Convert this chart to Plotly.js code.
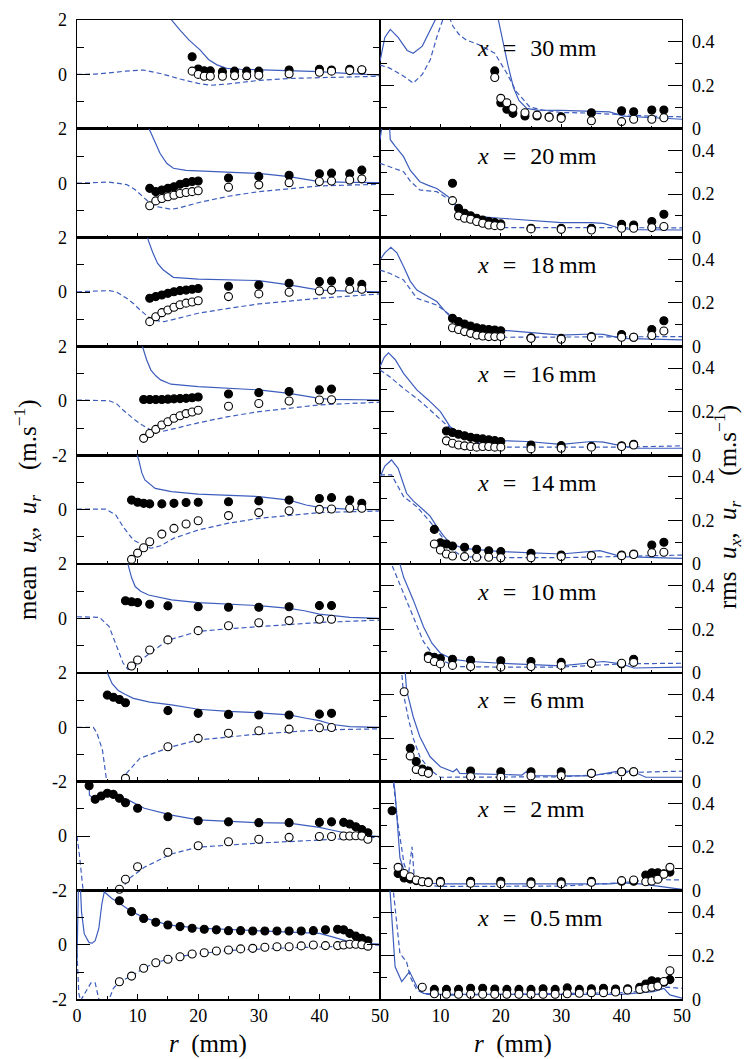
<!DOCTYPE html>
<html><head><meta charset="utf-8">
<script src="https://cdn.plot.ly/plotly-3.0.1.min.js"></script>
<style>html,body{margin:0;padding:0;background:#fff}#chart{width:747px;height:1059px}</style>
</head><body><div id="chart"></div>
<script>
// ---------- panel labels and tick labels ----------
const stations = ['30', '20', '18', '16', '14', '10', '6', '2', '0.5'];
const leftTopLabels = ['2', '2', '2', '2', '', '2', '2', '', ''];
const leftBottomLabels = ['', '', '', '-2', '', '', '-2', '-2', '-2'];
const rTickVals = [0, 10, 20, 30, 40, 50];
const rTickTextLeft = ['0', '10', '20', '30', '40', '50'];
const rTickTextRight = ['', '10', '20', '30', '40', '50'];
const meanTickVals = [-2, 0, 2];
const rmsTickVals = [0, 0.2, 0.4];
const rmsTickText = ['0', '0.2', '0.4'];

// ---------- x = 30 mm ----------
const exp30_r = [19,20,21,22,24,26,28,30,35,40,42,45,47];
const mean30_ux = [0.65,0.2,0.13,0.13,0.1,0.12,0.12,0.12,0.16,0.19,0.16,0.19,0.16];
const mean30_ur = [0.12,0.0,-0.07,-0.07,-0.07,-0.05,-0.05,-0.03,0.02,0.08,0.12,0.14,0.17];
const rms30_ux = [0.266,0.12,0.09,0.071,0.059,0.059,0.055,0.055,0.074,0.083,0.078,0.086,0.086];
const rms30_ur = [0.236,0.14,0.12,0.094,0.074,0.063,0.053,0.048,0.037,0.033,0.044,0.044,0.051];
const mean30_uxCfd_r = [12,15.6,17,18.5,20.3,21.7,23.1,24.7,27,30,35,40,45,50];
const mean30_uxCfd = [3.5,2.0,1.63,1.26,0.9,0.55,0.35,0.22,0.19,0.17,0.14,0.1,0.03,-0.03];
const mean30_urCfd_r = [0,3,5,8,11,14,17,20,22,25,30,35,40,45,50];
const mean30_urCfd = [0,0.01,0.05,0.12,0.16,0.02,-0.17,-0.33,-0.4,-0.35,-0.22,-0.15,-0.12,-0.09,-0.07];
const rms30_uxCfd_r = [0,0.8,1.7,3,4.5,5.5,7,8.5,9.5,11,14,17,19,19.6,20.4,21.2,22.1,23,24.3,26,30,35,38,40.3,45,50];
const rms30_uxCfd = [0.31,0.42,0.457,0.42,0.36,0.347,0.38,0.46,0.52,0.62,0.7,0.65,0.58,0.5,0.39,0.29,0.19,0.13,0.094,0.086,0.085,0.08,0.078,0.058,0.05,0.044];
const rms30_urCfd_r = [0,1.5,2.8,4,5.5,7,8.3,9.5,10.5,11.3,12.1,13.2,14.3,16.5,19,21,22.6,24.8,27,30,35,40,45,50];
const rms30_urCfd = [0.293,0.28,0.26,0.24,0.21,0.25,0.316,0.43,0.51,0.525,0.47,0.43,0.408,0.385,0.347,0.255,0.17,0.1,0.086,0.075,0.072,0.065,0.058,0.055];

// ---------- x = 20 mm ----------
const exp20_r = [12,13,14,15,16,17,18,19,20,25,30,35,40,42,45,47];
const mean20_ux = [-0.19,-0.31,-0.25,-0.19,-0.13,-0.04,0.02,0.06,0.08,0.19,0.25,0.29,0.35,0.37,0.35,0.48];
const mean20_ur = [-0.83,-0.65,-0.56,-0.5,-0.44,-0.38,-0.34,-0.31,-0.28,-0.15,-0.06,0.02,0.06,0.08,0.12,0.16];
const rms20_ux = [0.25,0.135,0.112,0.1,0.089,0.081,0.074,0.069,0.063,0.043,0.043,0.043,0.061,0.058,0.074,0.107];
const rms20_ur = [0.17,0.1,0.089,0.084,0.074,0.066,0.058,0.055,0.054,0.04,0.038,0.035,0.043,0.043,0.046,0.051];
const mean20_uxCfd_r = [9,11.9,13,13.7,14.8,15.9,18,22,26,30,35,40,45,50];
const mean20_uxCfd = [4,2.0,1.45,1.1,0.73,0.55,0.47,0.44,0.41,0.36,0.24,0.06,0.03,0.02];
const mean20_urCfd_r = [0,5.3,8.2,9.5,10.9,12,13.1,15.6,17,20.3,25,30,40,50];
const mean20_urCfd = [0,0.04,-0.05,-0.22,-0.5,-0.72,-0.86,-0.96,-0.9,-0.7,-0.48,-0.31,-0.1,-0.04];
const rms20_uxCfd_r = [0,0.6,0.9,1.4,1.7,2.5,3.9,5,6.6,8,9.4,11.3,13.2,14.9,17,20,25,30,35,37,39.7,42,50];
const rms20_uxCfd = [0.45,0.55,0.62,0.6,0.45,0.42,0.372,0.31,0.257,0.24,0.226,0.188,0.127,0.104,0.095,0.089,0.078,0.069,0.069,0.065,0.043,0.037,0.035];
const rms20_urCfd_r = [0,1.6,3.9,5,6.6,8,9.4,11.6,13.2,14.9,18.2,20.4,30,40,50];
const rms20_urCfd = [0.341,0.326,0.303,0.26,0.219,0.215,0.211,0.173,0.127,0.089,0.058,0.046,0.045,0.045,0.045];

// ---------- x = 18 mm ----------
const exp18_r = [12,13,14,15,16,17,18,19,20,25,30,35,40,42,45,47];
const mean18_ux = [-0.23,-0.17,-0.11,-0.05,0.01,0.05,0.07,0.1,0.13,0.21,0.26,0.32,0.38,0.4,0.38,0.28];
const mean18_ur = [-1.09,-0.91,-0.76,-0.66,-0.56,-0.47,-0.41,-0.37,-0.32,-0.17,-0.07,-0.01,0.04,0.07,0.1,0.1];
const rms18_ux = [0.129,0.114,0.103,0.094,0.086,0.081,0.078,0.075,0.072,0.04,0.037,0.045,0.055,0.042,0.078,0.118];
const rms18_ur = [0.086,0.078,0.068,0.06,0.052,0.048,0.045,0.045,0.045,0.037,0.033,0.042,0.042,0.042,0.05,0.071];
const mean18_uxCfd_r = [9,11.6,12.5,13.3,14.2,15,15.9,20,25,30,35,40,45,50];
const mean18_uxCfd = [4,2.0,1.45,1.05,0.82,0.69,0.54,0.47,0.45,0.42,0.26,0.07,0.03,0.01];
const mean18_urCfd_r = [0,5.3,6.5,8.2,9.3,10.4,12.4,14.4,17,20,25,30,40,50];
const mean18_urCfd = [0.01,0.05,0.0,-0.23,-0.42,-0.66,-1.03,-1.09,-0.95,-0.78,-0.6,-0.44,-0.23,-0.07];
const rms18_uxCfd_r = [0,0.8,1.8,2.8,3.9,5,6.1,7.8,9.4,10.5,11.6,13.2,16.6,20,25,30,35,37,40,45,50];
const rms18_uxCfd = [0.397,0.43,0.455,0.43,0.367,0.3,0.259,0.23,0.206,0.17,0.137,0.106,0.083,0.075,0.062,0.052,0.057,0.055,0.037,0.032,0.03];
const rms18_urCfd_r = [0,1.6,3.9,6.1,9.4,11.6,13.5,16.6,20,30,40,50];
const rms18_urCfd = [0.351,0.336,0.305,0.221,0.19,0.145,0.099,0.06,0.042,0.042,0.042,0.045];

// ---------- x = 16 mm ----------
const exp16_r = [11,12,13,14,15,16,17,18,19,20,25,30,35,40,42];
const mean16_ux = [0.05,0.05,0.05,0.05,0.06,0.07,0.08,0.09,0.11,0.14,0.25,0.3,0.34,0.4,0.43];
const mean16_ur = [-1.38,-1.2,-1.05,-0.89,-0.77,-0.64,-0.55,-0.47,-0.41,-0.35,-0.2,-0.1,-0.01,0.03,0.04];
const rms16_ux = [0.111,0.104,0.096,0.089,0.082,0.078,0.075,0.071,0.067,0.063,0.047,0.044,0.04,0.043,0.05];
const rms16_ur = [0.066,0.055,0.047,0.043,0.04,0.037,0.04,0.04,0.037,0.037,0.029,0.032,0.037,0.04,0.047];
const mean16_uxCfd_r = [8,10.8,11.5,12.2,13,13.8,15.5,20,25,30,35,40,42,50];
const mean16_uxCfd = [4,2.0,1.5,1.13,0.92,0.77,0.61,0.52,0.47,0.4,0.27,0.09,0.05,0.03];
const mean16_urCfd_r = [0,5.3,6.5,7.6,9,10.3,12.2,13.8,16.3,20,25,30,40,50];
const mean16_urCfd = [0.03,0.0,-0.1,-0.34,-0.6,-0.83,-1.08,-1.14,-1.01,-0.81,-0.58,-0.4,-0.15,-0.05];
const rms16_uxCfd_r = [0,0.7,1.4,2.5,3.9,6.1,8,10,11.6,13.2,16.6,20,24.3,30,35,37,40,42.5,50];
const rms16_uxCfd = [0.407,0.45,0.47,0.44,0.376,0.3,0.254,0.2,0.131,0.104,0.078,0.067,0.063,0.05,0.063,0.06,0.043,0.032,0.032];
const rms16_urCfd_r = [0,1.6,3.9,6.1,8.3,11,13.8,16.6,20,30,40,50];
const rms16_urCfd = [0.392,0.361,0.307,0.261,0.208,0.139,0.086,0.055,0.037,0.037,0.037,0.043];

// ---------- x = 14 mm ----------
const exp14_r = [9,10,11,12,14,16,18,20,25,30,35,40,42,45,47];
const mean14_ux = [0.35,0.27,0.23,0.21,0.21,0.23,0.26,0.27,0.29,0.32,0.35,0.41,0.44,0.35,0.23];
const mean14_ur = [-1.83,-1.6,-1.4,-1.18,-0.9,-0.69,-0.53,-0.41,-0.22,-0.11,-0.04,0.01,0.02,0.05,0.05];
const rms14_ux = [0.159,0.098,0.092,0.083,0.077,0.068,0.061,0.057,0.049,0.041,0.038,0.041,0.046,0.087,0.1];
const rms14_ur = [0.092,0.064,0.046,0.037,0.034,0.031,0.031,0.029,0.029,0.034,0.038,0.038,0.044,0.052,0.054];
const mean14_uxCfd_r = [7,9.9,10.2,10.7,11.2,12.9,15.6,20,25,30,35,37.8,40,45,50];
const mean14_uxCfd = [4,2.0,1.82,1.35,1.09,0.78,0.66,0.57,0.53,0.48,0.35,0.17,0.08,0.01,0.0];
const mean14_urCfd_r = [0,4.7,6.4,7.6,9.3,11.2,12.2,13.8,16,20,25,30,40,50];
const mean14_urCfd = [0.02,0.02,-0.2,-0.63,-1.12,-1.34,-1.42,-1.33,-1.05,-0.75,-0.5,-0.32,-0.11,-0.05];
const rms14_uxCfd_r = [0,0.8,1.9,3,4.4,5.5,7.2,8.3,9.4,10.5,11.6,13.8,20,30,36.4,40,50];
const rms14_uxCfd = [0.4,0.45,0.478,0.44,0.325,0.29,0.248,0.22,0.172,0.13,0.095,0.072,0.057,0.046,0.061,0.034,0.026];
const rms14_urCfd_r = [0,1.9,3.9,6.1,8.3,10.5,12,13.7,20,30,40,50];
const rms14_urCfd = [0.41,0.41,0.31,0.263,0.194,0.118,0.064,0.034,0.029,0.029,0.034,0.041];

// ---------- x = 10 mm ----------
const exp10_r = [8,9,10,12,15,20,25,30,35,40,42];
const mean10_ux = [0.65,0.61,0.58,0.52,0.46,0.43,0.41,0.41,0.43,0.47,0.47];
const mean10_ur = [null,-1.75,-1.53,-1.16,-0.79,-0.45,-0.27,-0.16,-0.08,-0.03,-0.03];
const rms10_ux = [0.077,0.071,0.066,0.062,0.058,0.055,0.052,0.048,0.044,0.041,0.062];
const rms10_ur = [0.066,0.052,0.041,0.034,0.029,0.026,0.029,0.034,0.044,0.044,0.048];
const mean10_uxCfd_r = [6,8.5,9,9.6,10.5,11.8,15.6,20,25,30,35,37.5,40,45,50];
const mean10_uxCfd = [4,2.0,1.5,1.17,1.0,0.86,0.68,0.58,0.52,0.47,0.37,0.28,0.16,0.04,0.0];
const mean10_urCfd_r = [0,3.7,5.3,6.6,7.6,8.4,9.3,10.5,12,15,20,25,30,40,50];
const mean10_urCfd = [0.06,0.04,-0.3,-1.03,-1.64,-1.87,-1.83,-1.55,-1.28,-0.8,-0.48,-0.38,-0.3,-0.15,-0.06];
const rms10_uxCfd_r = [3,3.3,3.9,5.5,7.2,8.6,10,12.1,15,20,30,37,40,42,50];
const rms10_uxCfd = [0.6,0.5,0.44,0.335,0.212,0.136,0.09,0.062,0.052,0.044,0.032,0.052,0.041,0.022,0.026];
const rms10_urCfd_r = [1.5,1.9,3.9,5.5,7.2,8.6,10,12.7,20,30,40,50];
const rms10_urCfd = [0.6,0.5,0.365,0.258,0.143,0.09,0.059,0.029,0.026,0.026,0.041,0.044];

// ---------- x = 6 mm ----------
const exp6_r = [4,5,6,7,8,15,20,25,30,35,40,42];
const mean6_ux = [null,1.18,1.1,1.02,0.9,0.61,0.51,0.47,0.45,0.45,0.48,0.51];
const mean6_ur = [null,null,null,null,-1.88,-0.72,-0.41,-0.22,-0.13,-0.07,-0.02,-0.01];
const rms6_ux = [null,0.153,0.092,0.058,0.049,0.049,0.045,0.045,0.045,0.038,0.045,0.045];
const rms6_ur = [0.413,0.118,0.056,0.045,0.038,0.023,0.02,0.026,0.027,0.038,0.045,0.045];
const mean6_uxCfd_r = [4,5,5.8,6.8,8,9.3,12,15.6,20,25,30,35,37.8,40,42.2,45,50];
const mean6_uxCfd = [3.5,2.0,1.6,1.35,1.2,1.06,0.92,0.82,0.66,0.58,0.53,0.45,0.33,0.24,0.1,0.02,-0.01];
const mean6_urCfd_r = [0,2.7,3.3,4.2,4.8,5.2,7.5,7.9,10.4,15.6,20,30,40,50];
const mean6_urCfd = [-0.01,-0.01,-0.22,-0.84,-1.82,-2.6,-2.6,-1.76,-1.14,-0.72,-0.47,-0.25,-0.1,-0.06];
const rms6_uxCfd_r = [3.9,4.4,5.5,6.6,8.3,10,12.1,12.7,13.2,20,23.5,24.2,24.8,30,35,40,42,44,50];
const rms6_uxCfd = [0.6,0.42,0.298,0.206,0.114,0.068,0.045,0.058,0.038,0.033,0.03,0.045,0.028,0.026,0.026,0.05,0.045,0.02,0.02];
const rms6_urCfd_r = [3.3,3.9,4.7,5.5,6.6,8.3,10,20,30,35,40,50];
const rms6_urCfd = [0.6,0.4,0.29,0.2,0.114,0.053,0.02,0.02,0.022,0.03,0.041,0.048];

// ---------- x = 2 mm ----------
const exp2_r = [2,3,4,5,6,7,8,10,15,20,25,30,35,40,42,44,45,46,47,48];
const mean2_ux = [1.85,1.35,1.47,1.57,1.53,1.39,1.22,1.02,0.71,0.56,0.52,0.49,0.49,0.5,0.52,0.5,0.44,0.34,0.24,0.12];
const mean2_ur = [null,null,null,null,null,-1.96,-1.59,-1.13,-0.6,-0.36,-0.21,-0.12,-0.05,-0.02,-0.02,0.0,0.0,0.01,0.0,-0.12];
const rms2_ux = [0.366,0.078,0.057,0.052,0.045,0.04,0.04,0.042,0.042,0.042,0.04,0.04,0.042,0.042,0.042,0.071,0.081,0.081,0.076,0.084];
const rms2_ur = [null,0.106,0.078,0.063,0.048,0.04,0.036,0.036,0.033,0.03,0.03,0.03,0.037,0.045,0.048,0.04,0.043,0.051,0.074,0.106];
const mean2_uxCfd_r = [1.5,1.98,2.05,2.9,3.8,5.3,6.4,8.5,11.1,15.6,20,30,35,40,42,45,50];
const mean2_uxCfd = [3,2.3,1.5,1.36,1.45,1.55,1.5,1.32,1.02,0.77,0.59,0.49,0.47,0.32,0.22,0.08,-0.02];
const mean2_urCfd_r = [0,0.4,1.0,1.3,6.8,7.3,8.5,11.1,15.6,20,30,40,50];
const mean2_urCfd = [0.0,-0.7,-1.98,-2.6,-2.6,-1.98,-1.58,-1.15,-0.66,-0.41,-0.26,-0.14,-0.04];
const rms2_uxCfd_r = [1.8,2.5,3.3,4,5,7,10,20,30,38,40,43,46,50];
const rms2_uxCfd = [0.6,0.45,0.15,0.09,0.06,0.035,0.03,0.03,0.028,0.03,0.035,0.03,0.02,0.005];
const rms2_urCfd_r = [1.6,2,3,4,4.7,5.3,5.7,7,10,30,40,45,50];
const rms2_urCfd = [0.6,0.55,0.3,0.12,0.07,0.2,0.05,0.025,0.018,0.02,0.035,0.05,0.048];

// ---------- x = 0.5 mm ----------
const exp05_r = [7,9,11,13,15,17,19,21,23,25,27,29,31,33,35,37,39,41,43,44,45,46,47,48];
const mean05_ux = [1.62,1.22,0.97,0.83,0.73,0.67,0.61,0.57,0.55,0.52,0.52,0.51,0.51,0.51,0.51,0.51,0.52,0.55,0.57,0.55,0.42,0.32,0.24,0.15];
const mean05_ur = [-1.36,-1.15,-0.86,-0.66,-0.53,-0.44,-0.34,-0.29,-0.23,-0.19,-0.15,-0.13,-0.09,-0.07,-0.07,-0.04,-0.01,-0.03,-0.03,-0.01,0.02,0.02,0.0,-0.05];
const rms05_ux = [null,0.045,0.045,0.045,0.05,0.05,0.047,0.045,0.045,0.045,0.048,0.045,0.052,0.045,0.048,0.05,0.047,0.048,0.055,0.07,0.085,0.08,0.078,0.09];
const rms05_ur = [0.055,0.025,0.023,0.023,0.023,0.023,0.023,0.023,0.023,0.023,0.023,0.023,0.025,0.027,0.03,0.03,0.033,0.042,0.045,0.05,0.055,0.061,0.081,0.131];
const mean05_uxCfd_r = [0,0.25,0.5,0.75,1.2,2,2.5,3,3.6,4.1,4.5,5,5.7,6.5,8.7,11,15,20,30,40,42,45,47.5,50];
const mean05_uxCfd = [-0.6,2.4,2.4,1.2,0.4,0.08,0.06,0.15,0.6,1.5,1.95,1.85,1.71,1.6,1.27,1.0,0.73,0.61,0.51,0.42,0.3,0.11,0.05,0.03];
const mean05_urCfd_r = [0,0.3,0.6,1.5,2.3,3.0,3.6,5,5.4,6,7,9,11,13,15,17,20,25,30,35,40,45,50];
const mean05_urCfd = [-0.3,-1.8,-2.05,-1.7,-1.4,-1.4,-2.0,-2.1,-1.95,-1.6,-1.36,-1.15,-0.86,-0.66,-0.53,-0.43,-0.33,-0.21,-0.15,-0.11,-0.08,-0.04,-0.01];
const rms05_uxCfd_r = [1.5,1.66,2.5,3.6,4.9,6.1,7.2,10,40,45.3,47,48,50];
const rms05_uxCfd = [0.6,0.5,0.149,0.081,0.127,0.058,0.027,0.022,0.022,0.035,0.05,0.02,0.005];
const rms05_urCfd_r = [2,2.2,3.3,4.4,5,6.1,7.5,10,40,45.3,47.5,50];
const rms05_urCfd = [0.6,0.5,0.21,0.172,0.103,0.042,0.023,0.018,0.03,0.04,0.055,0.05];

// ---------- table built from the arrays above ----------
const rows = [
  [exp30_r, mean30_ux, mean30_ur, rms30_ux, rms30_ur, mean30_uxCfd_r, mean30_uxCfd, mean30_urCfd_r, mean30_urCfd, rms30_uxCfd_r, rms30_uxCfd, rms30_urCfd_r, rms30_urCfd],
  [exp20_r, mean20_ux, mean20_ur, rms20_ux, rms20_ur, mean20_uxCfd_r, mean20_uxCfd, mean20_urCfd_r, mean20_urCfd, rms20_uxCfd_r, rms20_uxCfd, rms20_urCfd_r, rms20_urCfd],
  [exp18_r, mean18_ux, mean18_ur, rms18_ux, rms18_ur, mean18_uxCfd_r, mean18_uxCfd, mean18_urCfd_r, mean18_urCfd, rms18_uxCfd_r, rms18_uxCfd, rms18_urCfd_r, rms18_urCfd],
  [exp16_r, mean16_ux, mean16_ur, rms16_ux, rms16_ur, mean16_uxCfd_r, mean16_uxCfd, mean16_urCfd_r, mean16_urCfd, rms16_uxCfd_r, rms16_uxCfd, rms16_urCfd_r, rms16_urCfd],
  [exp14_r, mean14_ux, mean14_ur, rms14_ux, rms14_ur, mean14_uxCfd_r, mean14_uxCfd, mean14_urCfd_r, mean14_urCfd, rms14_uxCfd_r, rms14_uxCfd, rms14_urCfd_r, rms14_urCfd],
  [exp10_r, mean10_ux, mean10_ur, rms10_ux, rms10_ur, mean10_uxCfd_r, mean10_uxCfd, mean10_urCfd_r, mean10_urCfd, rms10_uxCfd_r, rms10_uxCfd, rms10_urCfd_r, rms10_urCfd],
  [exp6_r, mean6_ux, mean6_ur, rms6_ux, rms6_ur, mean6_uxCfd_r, mean6_uxCfd, mean6_urCfd_r, mean6_urCfd, rms6_uxCfd_r, rms6_uxCfd, rms6_urCfd_r, rms6_urCfd],
  [exp2_r, mean2_ux, mean2_ur, rms2_ux, rms2_ur, mean2_uxCfd_r, mean2_uxCfd, mean2_urCfd_r, mean2_urCfd, rms2_uxCfd_r, rms2_uxCfd, rms2_urCfd_r, rms2_urCfd],
  [exp05_r, mean05_ux, mean05_ur, rms05_ux, rms05_ur, mean05_uxCfd_r, mean05_uxCfd, mean05_urCfd_r, mean05_urCfd, rms05_uxCfd_r, rms05_uxCfd, rms05_urCfd_r, rms05_urCfd]
];

// ---------- layout geometry (pixels) ----------
const W = 747, H = 1059;
const X_LEFT = 77, X_MID = 380, X_RIGHT = 682;
const Y_TOP = 20, ROW_H = 108.8;
const FONT = '"Liberation Serif", "Times New Roman", "DejaVu Serif", serif';
const BLUE = '#3d5dbd';
const px2x = p => p / W;
const px2y = p => 1 - p / H;

const traces = [];
const layout = {
  width: W, height: H,
  margin: {l: 0, r: 0, t: 0, b: 0},
  paper_bgcolor: '#fff', plot_bgcolor: 'rgba(0,0,0,0)',
  showlegend: false,
  font: {family: FONT, color: '#000', size: 16},
  annotations: []
};

function lineTrace(xs, ys, id, dash) {
  return {type: 'scatter', mode: 'lines', x: xs, y: ys, xaxis: 'x' + id, yaxis: 'y' + id,
    line: {color: BLUE, width: 1.2, dash: dash}, hoverinfo: 'skip'};
}
function markTrace(xs, ys, id, filled) {
  return {type: 'scatter', mode: 'markers', x: xs, y: ys, xaxis: 'x' + id, yaxis: 'y' + id,
    cliponaxis: false,
    marker: {symbol: 'circle', size: 8, color: filled ? '#000' : '#fff', line: {color: '#000', width: 1.1}},
    hoverinfo: 'skip'};
}

rows.forEach((d, i) => {
  const [r, mux, mur, sux, sur, mUxR, mUx, mUrR, mUr, sUxR, sUx, sUrR, sUr] = d;
  const nL = 2 * i + 1, nR = 2 * i + 2;
  const idL = nL === 1 ? '' : String(nL), idR = String(nR);
  const yTop = Y_TOP + ROW_H * i, yBot = yTop + ROW_H;
  const yDom = [px2y(yBot), px2y(yTop)];
  const last = i === rows.length - 1;

  traces.push(lineTrace(mUxR, mUx, idL, 'solid'));
  traces.push(lineTrace(mUrR, mUr, idL, '5px,3px'));
  traces.push(markTrace(r, mux, idL, true));
  traces.push(markTrace(r, mur, idL, false));
  traces.push(lineTrace(sUxR, sUx, idR, 'solid'));
  traces.push(lineTrace(sUrR, sUr, idR, '5px,3px'));
  traces.push(markTrace(r, sux, idR, true));
  traces.push(markTrace(r, sur, idR, false));

  const xCommon = {
    range: [0, 50], tickmode: 'array', tickvals: rTickVals,
    ticks: 'inside', ticklen: 5, tickwidth: 1, tickcolor: '#000',
    minor: {dtick: 5, tick0: 0, ticks: 'inside', ticklen: 3, tickwidth: 1, tickcolor: '#000'},
    showline: true, linecolor: '#000', linewidth: 1.3, mirror: true,
    showgrid: false, zeroline: false, fixedrange: true,
    showticklabels: last, tickfont: {family: FONT, size: 18, color: '#000'}
  };
  layout['xaxis' + idL] = Object.assign({}, xCommon, {
    domain: [px2x(X_LEFT), px2x(X_MID)], anchor: 'y' + idL, ticktext: rTickTextLeft});
  layout['xaxis' + idR] = Object.assign({}, xCommon, {
    domain: [px2x(X_MID), px2x(X_RIGHT)], anchor: 'y' + idR, ticktext: rTickTextRight});

  layout['yaxis' + idL] = {
    domain: yDom, anchor: 'x' + idL, range: [-2, 2],
    tickmode: 'array', tickvals: meanTickVals, ticktext: [leftBottomLabels[i], '0', leftTopLabels[i]],
    ticks: 'inside', ticklen: 13, tickwidth: 1, tickcolor: '#000',
    minor: {dtick: 1, tick0: 0, ticks: 'inside', ticklen: 7, tickwidth: 1, tickcolor: '#000'},
    showline: true, linecolor: '#000', linewidth: 1.3, mirror: 'ticks',
    showgrid: false, zeroline: false, fixedrange: true,
    ticklabelstandoff: 5, tickfont: {family: FONT, size: 18, color: '#000'}
  };
  layout['yaxis' + idR] = {
    domain: yDom, anchor: 'x' + idR, range: [0, 0.5], side: 'right',
    tickmode: 'array', tickvals: rmsTickVals, ticktext: rmsTickText,
    ticks: 'inside', ticklen: 14, tickwidth: 1, tickcolor: '#000',
    minor: {dtick: 0.1, tick0: 0, ticks: 'inside', ticklen: 7, tickwidth: 1, tickcolor: '#000'},
    showline: true, linecolor: '#000', linewidth: 1.3, mirror: 'ticks',
    showgrid: false, zeroline: false, fixedrange: true,
    ticklabelstandoff: 5, tickfont: {family: FONT, size: 18, color: '#000'}
  };

  layout.annotations.push({
    text: '<i>x</i>\u2002\u200A=\u2002\u200A' + stations[i] + '\u2009mm',
    xref: 'x' + idR, yref: 'paper', x: (475 - X_MID) / ((X_RIGHT - X_MID) / 50),
    y: px2y(yTop + 27.5), xanchor: 'left', yanchor: 'middle', showarrow: false,
    font: {family: FONT, size: 24, color: '#000'}
  });
});

// axis titles
layout.annotations.push({
  text: 'mean\u2002<i>u</i><sub><i>x</i></sub>,\u2002<i>u</i><sub><i>r</i></sub>\u2003(m.s<sup>\u22121</sup>)',
  xref: 'paper', yref: 'paper', x: px2x(27), y: px2y(510), textangle: -90,
  xanchor: 'center', yanchor: 'middle', showarrow: false, font: {family: FONT, size: 25, color: '#000'}
});
layout.annotations.push({
  text: 'rms\u2002<i>u</i><sub><i>x</i></sub>,\u2002<i>u</i><sub><i>r</i></sub>\u2003(m.s<sup>\u22121</sup>)',
  xref: 'paper', yref: 'paper', x: px2x(727), y: px2y(507), textangle: -90,
  xanchor: 'center', yanchor: 'middle', showarrow: false, font: {family: FONT, size: 25, color: '#000'}
});
[208, 513].forEach(cx => layout.annotations.push({
  text: '<i>r</i>\u2002(mm)', xref: 'paper', yref: 'paper', x: px2x(cx), y: px2y(1044),
  xanchor: 'center', yanchor: 'middle', showarrow: false, font: {family: FONT, size: 25, color: '#000'}
}));

Plotly.newPlot('chart', traces, layout, {displayModeBar: false, staticPlot: true});
</script>
</body></html>
